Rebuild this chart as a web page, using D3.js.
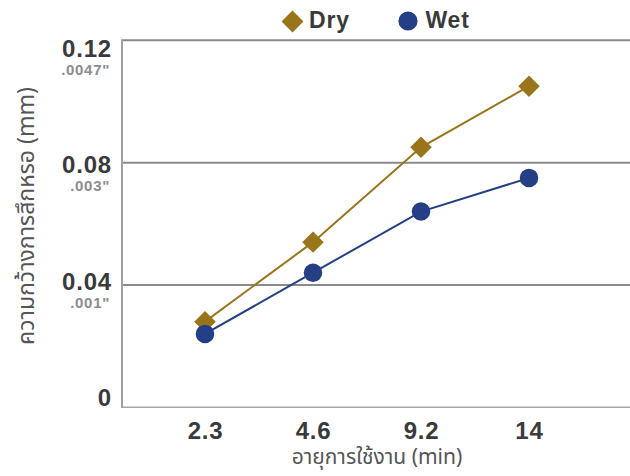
<!DOCTYPE html>
<html>
<head>
<meta charset="utf-8">
<script src="https://cdn.jsdelivr.net/npm/d3@7"></script>
<style>
  html, body { margin: 0; padding: 0; background: #ffffff; }
  svg { display: block; }
  .latin { font-family: "Liberation Sans", Arial, Helvetica, sans-serif; }
  .thai { font-family: "Noto Sans Thai", "Noto Sans", "Liberation Sans", sans-serif; }
</style>
</head>
<body>
<svg id="chart" width="630" height="476"></svg>
<script>
// Wear width per service life, dry vs wet machining
const categories = ["2.3", "4.6", "9.2", "14"];
const dryValues = [0.028, 0.054, 0.085, 0.105];
const wetValues = [0.024, 0.044, 0.064, 0.075];
const yTicks = [0, 0.04, 0.08, 0.12];
const yTickLabels = ["0", "0.04", "0.08", "0.12"];
const yInchLabels = ["", ".001\"", ".003\"", ".0047\""];
const seriesNames = ["Dry", "Wet"];

const width = 630, height = 476;
const plot = { left: 122, right: 630, top: 40.3, bottom: 407.3 };

const svg = d3.select("#chart");

const x = d3.scalePoint()
  .domain(categories)
  .range([plot.left + 83, plot.left + 407]);

const y = d3.scaleLinear()
  .domain([0, 0.12])
  .range([plot.bottom, plot.top]);

// tick text sits slightly inside the band between gridlines
const yText = d3.scaleLinear()
  .domain([0, 0.12])
  .range([y(0) - 9, y(0.12) + 8.5]);

const colors = { Dry: "#9a7418", Wet: "#243f86" };

// gridlines (every tick except the baseline)
svg.append("g")
  .selectAll("line")
  .data(yTicks.filter(d => d > 0))
  .join("line")
  .attr("x1", plot.left).attr("x2", plot.right)
  .attr("y1", d => y(d)).attr("y2", d => y(d))
  .attr("stroke", "#8a8a8e").attr("stroke-width", 2);

// baseline and left axis
svg.append("line")
  .attr("x1", plot.left).attr("x2", plot.right)
  .attr("y1", y(0)).attr("y2", y(0))
  .attr("stroke", "#a6a6aa").attr("stroke-width", 1.5);
svg.append("line")
  .attr("x1", plot.left).attr("x2", plot.left)
  .attr("y1", y(0.12) - 1).attr("y2", y(0) + 0.75)
  .attr("stroke", "#a0a0a4").attr("stroke-width", 2);

// y tick labels: mm values with inch equivalents beneath
const yLab = svg.append("g").attr("class", "latin");
yTicks.forEach((t, i) => {
  const base = yText(t) + 8;
  yLab.append("text")
    .attr("x", 112).attr("y", base)
    .attr("text-anchor", "end")
    .attr("font-size", 24).attr("font-weight", "bold")
    .attr("letter-spacing", 0.8)
    .attr("fill", "#3a3a3c")
    .text(yTickLabels[i]);
  if (yInchLabels[i]) {
    yLab.append("text")
      .attr("x", 110).attr("y", base + 18)
      .attr("text-anchor", "end")
      .attr("font-size", 15).attr("font-weight", "bold")
      .attr("letter-spacing", 0.7)
      .attr("fill", "#8c8c8e")
      .text(yInchLabels[i]);
  }
});

// x axis tick labels
const xAxis = d3.axisBottom(x).tickSize(0).tickPadding(0);
const xg = svg.append("g")
  .attr("class", "latin")
  .attr("transform", `translate(0,${plot.bottom})`)
  .call(xAxis);
xg.select(".domain").remove();
xg.selectAll("text")
  .attr("y", 32).attr("dy", 0)
  .attr("font-size", 24).attr("font-weight", "bold")
  .attr("letter-spacing", 0.8)
  .attr("font-family", "'Liberation Sans', Arial, sans-serif")
  .attr("fill", "#3a3a3c");

// axis titles
svg.append("text")
  .attr("class", "thai")
  .attr("x", 377).attr("y", 464)
  .attr("text-anchor", "middle")
  .attr("font-size", 21)
  .attr("fill", "#555558")
  .text("อายุการใช้งาน (min)");

svg.append("text")
  .attr("class", "thai")
  .attr("transform", "translate(34,216) rotate(-90)")
  .attr("text-anchor", "middle")
  .attr("font-size", 23)
  .attr("fill", "#555558")
  .text("ความกว้างการสึกหรอ (mm)");

// series lines and markers
const series = [
  { name: "Dry", values: dryValues },
  { name: "Wet", values: wetValues }
];

const line = d3.line()
  .x((d, i) => x(categories[i]))
  .y(d => y(d));

series.forEach(s => {
  svg.append("path")
    .datum(s.values)
    .attr("fill", "none")
    .attr("stroke", colors[s.name])
    .attr("stroke-width", 2)
    .attr("d", line);
});

// Dry: square rotated into a diamond; Wet: circle
series.forEach(s => {
  const g = svg.append("g");
  g.selectAll("path")
    .data(s.values)
    .join("path")
    .attr("transform", (d, i) => s.name === "Dry"
      ? `translate(${x(categories[i])},${y(d)}) rotate(45)`
      : `translate(${x(categories[i])},${y(d)})`)
    .attr("d", s.name === "Dry"
      ? d3.symbol().type(d3.symbolSquare).size(230)()
      : d3.symbol().type(d3.symbolCircle).size(270)())
    .attr("fill", colors[s.name]);
});

// legend
const legend = svg.append("g").attr("class", "latin");
const legendX = [292.5, 408];
seriesNames.forEach((name, i) => {
  legend.append("path")
    .attr("transform", name === "Dry"
      ? `translate(${legendX[i]},21.5) rotate(45)`
      : `translate(${legendX[i]},21)`)
    .attr("d", name === "Dry"
      ? d3.symbol().type(d3.symbolSquare).size(240)()
      : d3.symbol().type(d3.symbolCircle).size(290)())
    .attr("fill", colors[name]);
  legend.append("text")
    .attr("x", legendX[i] + (name === "Dry" ? 16.5 : 17.5))
    .attr("y", 28)
    .attr("font-size", 23).attr("font-weight", "bold")
    .attr("letter-spacing", 0.8)
    .attr("fill", "#3a3a3c")
    .text(name);
});
</script>
</body>
</html>
